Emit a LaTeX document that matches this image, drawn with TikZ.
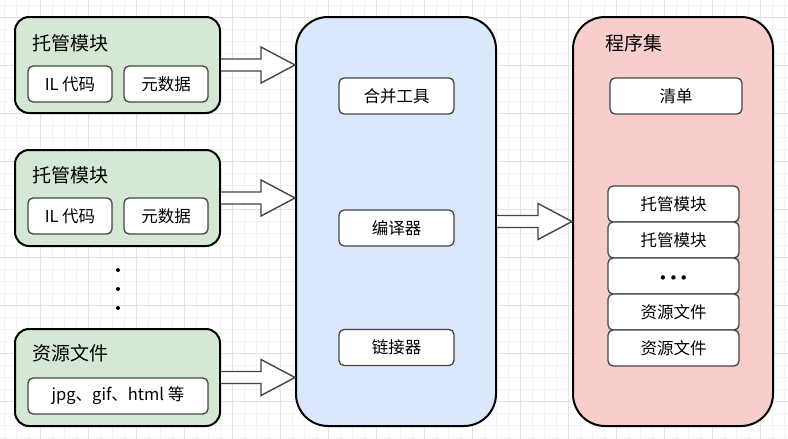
\documentclass[tikz,border=0pt]{standalone}
\usepackage{fontspec}
\setmainfont{Noto Sans CJK SC}
\newfontfamily\symfont{DejaVu Sans}
\usetikzlibrary{calc}
\definecolor{gfill}{HTML}{D5E8D4}
\definecolor{bfill}{HTML}{DAE8FC}
\definecolor{pfill}{HTML}{F8CECC}
\definecolor{gridmaj}{HTML}{E2E2E2}
\definecolor{gridmin}{HTML}{F3F3F3}
\definecolor{edgegray}{HTML}{444444}
\tikzset{
  outerbox/.style={draw=black, line width=2pt, rounded corners=#1, inner sep=0pt, anchor=center},
  innerbox/.style={draw=edgegray, line width=1.3pt, fill=white, rounded corners=5pt, inner sep=0pt, anchor=center, minimum height=36pt, font=\fontsize{16.5}{18}\selectfont},
  titletext/.style={anchor=west, inner sep=0pt, font=\fontsize{19}{22}\selectfont},
  blockarrow/.style={draw=edgegray, line width=1.4pt, fill=white, line join=miter},
  dotmark/.style={circle, fill=black, inner sep=0pt, minimum size=4pt},
}
\newcommand{\hollowarrow}[2]{%
  \draw[blockarrow] ($(#1.east)+(0,-6)$) -- ($(#2.west |- #1.east)+(-34,-6)$) -- ($(#2.west |- #1.east)+(-34,-18)$) -- (#2.west |- #1.east) -- ($(#2.west |- #1.east)+(-34,18)$) -- ($(#2.west |- #1.east)+(-34,6)$) -- ($(#1.east)+(0,6)$);%
}
\begin{document}
\begin{tikzpicture}[x=1pt,y=-1pt]
\useasboundingbox (0,0) rectangle (788,439);
\fill[white] (0,0) rectangle (788,439);
% grid
\foreach \x in {4,16,...,788} \draw[gridmin, line width=0.6pt] (\x,0) -- (\x,439);
\foreach \y in {5,17,...,439} \draw[gridmin, line width=0.6pt] (0,\y) -- (788,\y);
\foreach \x in {40,88,...,788} \draw[gridmaj, line width=0.9pt] (\x,0) -- (\x,439);
\foreach \y in {17,65,...,439} \draw[gridmaj, line width=0.9pt] (0,\y) -- (788,\y);

% left modules
\node[outerbox=14pt, fill=gfill, minimum width=205pt, minimum height=96pt] (g1) at (117.5,65) {};
\node[titletext] (g1t) at (32,43) {托管模块};
\node[innerbox, minimum width=84pt] (g1a) at (70,84) {IL 代码};
\node[innerbox, minimum width=84pt] (g1b) at (166,84) {元数据};

\node[outerbox=14pt, fill=gfill, minimum width=205pt, minimum height=96pt] (g2) at (117.5,198) {};
\node[titletext] (g2t) at (32,175) {托管模块};
\node[innerbox, minimum width=84pt] (g2a) at (70,216) {IL 代码};
\node[innerbox, minimum width=84pt] (g2b) at (166,216) {元数据};

\node[dotmark] (d1) at (118,270) {};
\node[dotmark] (d2) at (118,289) {};
\node[dotmark] (d3) at (118,308) {};

\node[outerbox=14pt, fill=gfill, minimum width=205pt, minimum height=97pt] (g3) at (117.5,377.5) {};
\node[titletext] (g3t) at (32,353) {资源文件};
\node[innerbox, minimum width=180pt] (g3a) at (118,396) {jpg、gif、html 等};

% tools
\node[outerbox=32pt, fill=bfill, minimum width=200pt, minimum height=409pt] (tools) at (396,221.5) {};
\node[innerbox, minimum width=115pt] (merge) at (396.5,96) {合并工具};
\node[innerbox, minimum width=115pt] (comp) at (396.5,228) {编译器};
\node[innerbox, minimum width=115pt] (link) at (396.5,347.5) {链接器};

% assembly
\node[outerbox=32pt, fill=pfill, minimum width=200pt, minimum height=409pt] (asm) at (673,221.5) {};
\node[titletext] (asmt) at (605,43) {程序集};
\node[innerbox, minimum width=132pt] (man) at (676,96) {清单};
\node[innerbox, minimum width=131pt] (s1) at (673.5,204) {托管模块};
\node[innerbox, minimum width=131pt] (s2) at (673.5,240) {托管模块};
\node[innerbox, minimum width=131pt, label={[inner sep=0pt, yshift=-4pt, font=\symfont\fontsize{15}{18}\selectfont]center:•\kern1.5pt•\kern1.5pt•}] (s3) at (673.5,276) {};
\node[innerbox, minimum width=131pt] (s4) at (673.5,312) {资源文件};
\node[innerbox, minimum width=131pt] (s5) at (673.5,348) {资源文件};

% arrows
\hollowarrow{g1}{tools}
\hollowarrow{g2}{tools}
\hollowarrow{g3}{tools}
\hollowarrow{tools}{asm}
\end{tikzpicture}
\end{document}
